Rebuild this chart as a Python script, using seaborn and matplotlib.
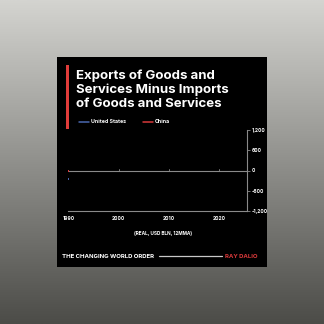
import numpy as np
import pandas as pd
import seaborn as sns
import matplotlib
matplotlib.use("Agg")
import matplotlib.pyplot as plt
from matplotlib.lines import Line2D
from matplotlib.patches import Rectangle

# Net exports (exports minus imports), real USD bln, 12-month moving average
us_years = [1990]
us_values = [-250]
china_years = [1990]
china_values = [0]

series_names = ["United States", "China"]
series_colors = ["#4a68b0", "#d8393a"]
year_ticks = [1990, 2000, 2010, 2020]
value_ticks = [-1200, -600, 0, 600, 1200]
value_labels = ["-1,200", "-600", "0", "600", "1,200"]

title_lines = ["Exports of Goods and", "Services Minus Imports", "of Goods and Services"]
units_note = "(REAL, USD BLN, 12MMA)"
footer_left = "THE CHANGING WORLD ORDER"
footer_right = "RAY DALIO"

df = pd.concat([
    pd.DataFrame({"year": us_years, "value": us_values, "country": series_names[0]}),
    pd.DataFrame({"year": china_years, "value": china_values, "country": series_names[1]}),
])

sns.set_theme(style="white")
plt.rcParams["font.family"] = ["Inter", "DejaVu Sans"]

W = H = 324
fig = plt.figure(figsize=(3.24, 3.24), dpi=100)

def fx(px):
    return px / W

def fy(py):
    return 1 - py / H

# gradient backdrop
bg = fig.add_axes([0, 0, 1, 1], zorder=0)
grad = np.linspace(0, 1, 256)[:, None]
top = np.array([212, 212, 208]) / 255
bot = np.array([76, 76, 72]) / 255
img = top[None, None, :] * (1 - grad[:, :, None]) + bot[None, None, :] * grad[:, :, None]
bg.imshow(img, aspect="auto", extent=[0, 1, 0, 1], origin="upper")
bg.set_axis_off()

# black card
fig.add_artist(Rectangle((fx(57), fy(267)), fx(210), 210 / H, transform=fig.transFigure,
                         facecolor="black", edgecolor="none", zorder=1))

ax = fig.add_axes([fx(68.3), fy(211), fx(246.7 - 68.3), 81 / H], zorder=2)
ax.set_facecolor("none")

ax.axhline(0, color="#8a8a8a", lw=0.8, zorder=1)
palette = dict(zip(series_names, series_colors))
sns.lineplot(data=df, x="year", y="value", hue="country", palette=palette, ax=ax,
             marker="s", markersize=2.0, markeredgewidth=0, legend=False, linewidth=1,
             zorder=3)

ax.set_xlim(1990, 2025.5)
ax.set_ylim(-1200, 1200)
ax.set_xticks(year_ticks)
ax.set_xticklabels([str(y) for y in year_ticks])
ax.set_yticks(value_ticks)
ax.set_yticklabels(value_labels)
ax.yaxis.tick_right()
ax.set_xlabel("")
ax.set_ylabel("")
for s in ["top", "left"]:
    ax.spines[s].set_visible(False)
for s in ["right", "bottom"]:
    ax.spines[s].set_color("#8a8a8a")
    ax.spines[s].set_linewidth(0.8)
ax.tick_params(axis="both", colors="#8a8a8a", length=2, width=0.6, pad=1.5,
               labelsize=3.6, labelcolor="white")
for lab in ax.get_xticklabels() + ax.get_yticklabels():
    lab.set_fontweight("bold")
# small ticks on the zero line
for y in year_ticks[1:]:
    ax.plot([y, y], [0, 40], color="#8a8a8a", lw=0.6, zorder=1)

# red accent bar and title
fig.add_artist(Rectangle((fx(66), fy(129)), fx(2.8), 64 / H, transform=fig.transFigure,
                         facecolor="#e03c3a", edgecolor="none", zorder=3))
for i, line in enumerate(title_lines):
    fig.text(fx(76.5), fy(75.5 + i * 14.2), line, color="white", fontsize=9.5,
             fontweight="bold", va="center", ha="left", zorder=4)

# legend
for (x0, name, col) in [(78.5, series_names[0], series_colors[0]),
                        (142.7, series_names[1], series_colors[1])]:
    fig.add_artist(Line2D([fx(x0), fx(x0 + 10.5)], [fy(121.5), fy(121.5)],
                          transform=fig.transFigure, color=col, lw=1.1, zorder=4))
    fig.text(fx(x0 + 12.5), fy(121.5), name, color="white", fontsize=3.8,
             fontweight="bold", va="center", ha="left", zorder=4)

fig.text(fx(163), fy(233.5), units_note, color="white", fontsize=3.4,
         fontweight="bold", va="center", ha="center", zorder=4)

# footer
fig.text(fx(62.5), fy(256), footer_left, color="white", fontsize=4.35,
         fontweight="bold", va="center", ha="left", zorder=4)
fig.add_artist(Line2D([fx(159), fx(221.5)], [fy(256), fy(256)], transform=fig.transFigure,
                      color="#c8c8c8", lw=0.9, zorder=4))
fig.text(fx(225), fy(256), footer_right, color="#d8393a", fontsize=4.35,
         fontweight="bold", va="center", ha="left", zorder=4)

fig.savefig("out.png", dpi=100)
